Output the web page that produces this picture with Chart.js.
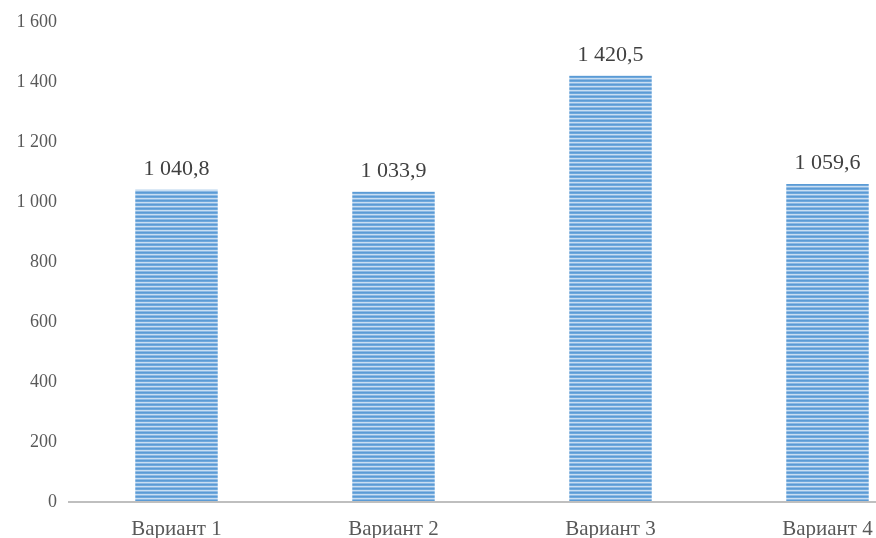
<!DOCTYPE html>
<html>
<head>
<meta charset="utf-8">
<script src="https://cdn.jsdelivr.net/npm/chart.js@4"></script>
<style>
html,body{margin:0;padding:0;background:#fff;overflow:hidden;}
#wrap{position:relative;width:940px;height:538px;}
</style>
</head>
<body>
<div id="wrap"><canvas id="c"></canvas></div>
<script>
const categories = ["Вариант 1", "Вариант 2", "Вариант 3", "Вариант 4"];
const values = [1040.8, 1033.9, 1420.5, 1059.6];
const yMin = 0, yMax = 1600, yStep = 200;

function fmt(v, dec) {
  const s = v.toFixed(dec);
  let [ip, fp] = s.split('.');
  ip = ip.replace(/\B(?=(\d{3})+(?!\d))/g, ' ');
  return fp ? ip + ',' + fp : ip;
}

function makePattern() {
  const p = document.createElement('canvas');
  p.width = 4; p.height = 4;
  const g = p.getContext('2d');
  const rows = ['#5B9BD5', '#6FA8DC', '#C9DEF2', '#8DB9E4'];
  rows.forEach((c, i) => { g.fillStyle = c; g.fillRect(0, i, 4, 1); });
  return g.createPattern(p, 'repeat');
}

const SERIF = '"Liberation Serif", "Times New Roman", serif';

const labelPlugin = {
  id: 'barLabels',
  afterDatasetsDraw(chart) {
    const ctx = chart.ctx;
    const meta = chart.getDatasetMeta(0);
    ctx.save();
    ctx.font = '22px ' + SERIF;
    ctx.fillStyle = '#404040';
    ctx.textAlign = 'center';
    ctx.textBaseline = 'alphabetic';
    meta.data.forEach((el, i) => {
      ctx.fillText(fmt(chart.data.datasets[0].data[i], 1), el.x, el.y - 15);
    });
    ctx.restore();
  }
};

const axisPlugin = {
  id: 'baseLine',
  afterDatasetsDraw(chart) {
    const ctx = chart.ctx;
    const y = chart.scales.y.getPixelForValue(0);
    ctx.save();
    ctx.strokeStyle = '#BFBFBF';
    ctx.lineWidth = 2;
    ctx.beginPath();
    ctx.moveTo(chart.chartArea.left, y);
    ctx.lineTo(chart.chartArea.right, y);
    ctx.stroke();
    ctx.restore();
  }
};

new Chart(document.getElementById('c'), {
  type: 'bar',
  data: {
    labels: categories,
    datasets: [{
      data: values,
      backgroundColor: makePattern(),
      borderWidth: 0,
      categoryPercentage: 1,
      barPercentage: 0.38
    }]
  },
  options: {
    responsive: true,
    maintainAspectRatio: false,
    animation: false,
    layout: { padding: { top: 22, right: 4, left: 0, bottom: 0 } },
    plugins: { legend: { display: false }, tooltip: { enabled: false } },
    scales: {
      x: {
        afterFit(s) { s.height = 36; },
        grid: { display: false, drawTicks: false },
        border: { display: false },
        ticks: {
          color: '#595959',
          font: { family: SERIF, size: 21 },
          padding: 15
        }
      },
      y: {
        min: yMin, max: yMax,
        afterFit(s) { s.width = 68; },
        grid: { display: false, drawTicks: false },
        border: { display: false },
        ticks: {
          stepSize: yStep,
          color: '#595959',
          padding: 11,
          font: { family: SERIF, size: 18 },
          callback: v => fmt(v, 0)
        }
      }
    }
  },
  plugins: [labelPlugin, axisPlugin]
});
</script>
</body>
</html>
